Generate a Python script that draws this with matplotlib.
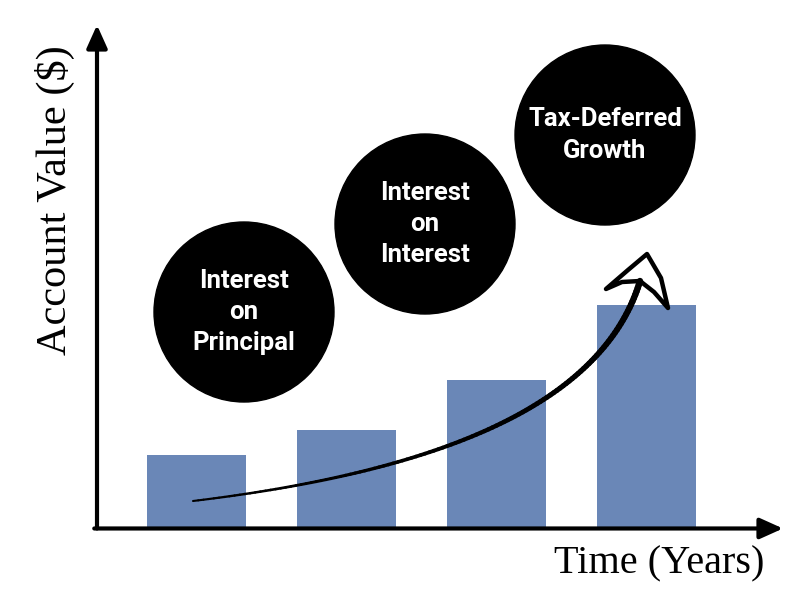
"""Compound growth sketch: bars growing over time, three concept bubbles and a rising arrow."""

import matplotlib

matplotlib.use("Agg")
import matplotlib.pyplot as plt  # noqa: E402
import numpy as np  # noqa: E402
from matplotlib.collections import LineCollection  # noqa: E402
from matplotlib.patches import Circle, Polygon  # noqa: E402

BAR, INK = "#6a87b7", "#000000"

periods = [0, 1, 2, 3]
values = [3, 4, 6, 9]

bubble_labels = ["Interest\non\nPrincipal", "Interest\non\nInterest", "Tax-Deferred\nGrowth"]
bubble_x = [244, 425, 605]
bubble_y = [312, 224, 135]

# growth arrow path (cubic bezier control points, figure pixels)
curve_ctrl = [(193, 501), (400, 476), (598, 420), (640, 281)]
head_pts = [(647, 254), (628, 270), (606, 289), (622, 282), (640, 281),
            (654, 292), (668, 308), (661, 278)]

W, H = 803, 609
fig = plt.figure(figsize=(W / 100, H / 100), dpi=100)
ax = fig.add_axes([97 / W, (H - 530) / H, (783 - 97) / W, (530 - 25) / H])
ax.bar(periods, values, width=0.66, color=BAR, zorder=1)
ax.set_xlim(-0.663, 3.91)
ax.set_ylim(0, 20.2)
ax.set_xticks([])
ax.set_yticks([])
for s in ax.spines.values():
    s.set_visible(False)

arrow = dict(arrowstyle="-|>,head_length=1.0,head_width=0.45", lw=3.0, color=INK,
             shrinkA=0, shrinkB=0, mutation_scale=14)
ax.annotate("", xy=(1, 0.003), xytext=(-0.004, 0.003), xycoords="axes fraction", arrowprops=arrow)
ax.annotate("", xy=(0, 1), xytext=(0, 0.003), xycoords="axes fraction", arrowprops=arrow)

# overlay in pixel space for the decorations
ov = fig.add_axes([0, 0, 1, 1], zorder=3)
ov.set_xlim(0, W)
ov.set_ylim(H, 0)
ov.axis("off")

for lab, cx, cy in zip(bubble_labels, bubble_x, bubble_y):
    ov.add_patch(Circle((cx, cy), 90, color=INK))
    ov.text(cx, cy, lab, ha="center", va="center", color="white", fontsize=18.5,
            family="Roboto", weight="bold", linespacing=1.38)

p = np.array(curve_ctrl, dtype=float)
t = np.linspace(0, 1, 120)[:, None]
pts = ((1 - t) ** 3 * p[0] + 3 * (1 - t) ** 2 * t * p[1]
       + 3 * (1 - t) * t ** 2 * p[2] + t ** 3 * p[3])
segs = np.stack([pts[:-1], pts[1:]], axis=1)
lc = LineCollection(segs, linewidths=np.linspace(1.5, 4.6, len(segs)), colors=INK,
                    capstyle="round")
ov.add_collection(lc)
ov.add_patch(Polygon(head_pts, closed=True, facecolor="none", edgecolor=INK, lw=3.2,
                     joinstyle="round"))

fig.text(55 / W, 1 - 200 / H, "Account Value ($)", rotation=90, ha="center", va="center",
         family="Liberation Serif", fontsize=30.5, color=INK)
fig.text(659 / W, 1 - 564 / H, "Time (Years)", ha="center", va="center",
         family="Liberation Serif", fontsize=29, color=INK)

fig.savefig("out.png", dpi=100, facecolor="white")
